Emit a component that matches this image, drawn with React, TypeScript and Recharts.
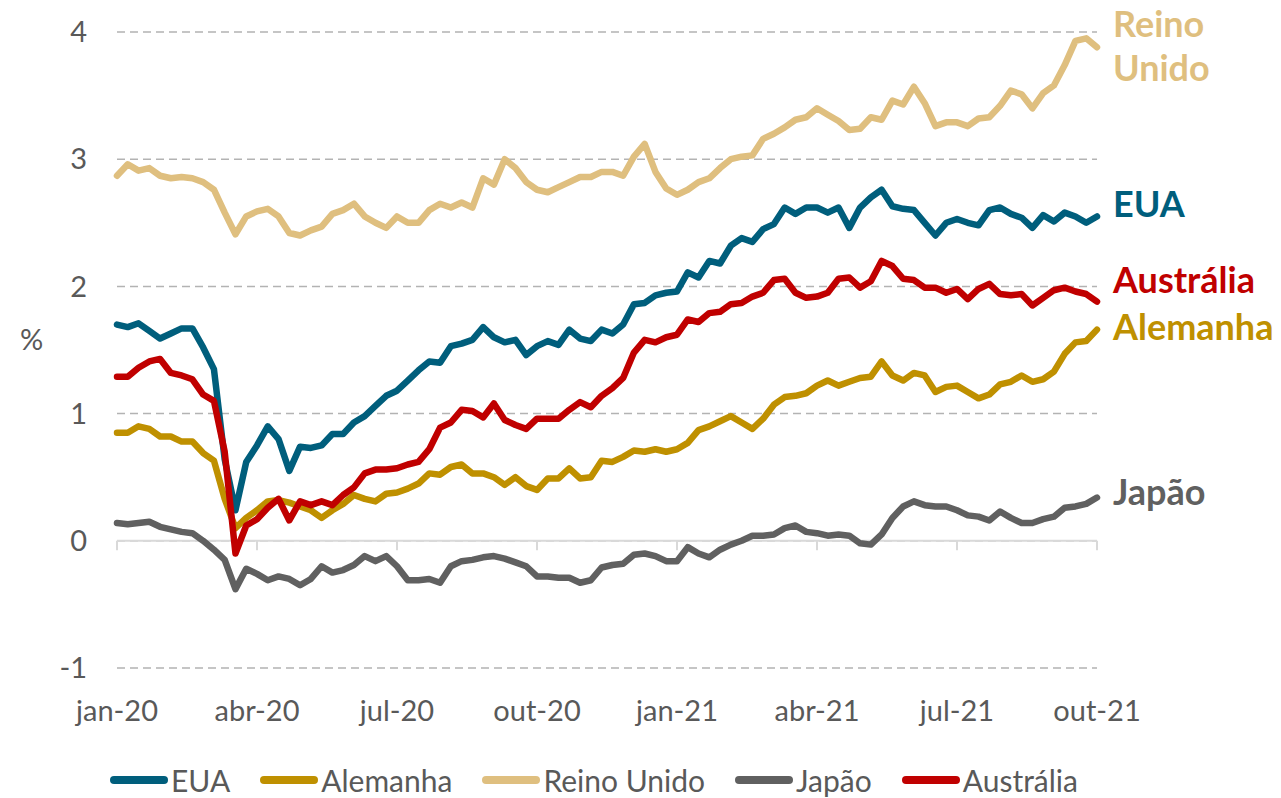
import React from 'react'
import {
  LineChart,
  Line,
  XAxis,
  YAxis,
  CartesianGrid,
  ReferenceLine,
} from 'recharts'

// weekly readings, jan-20 .. out-21 (92 weeks)
const tickWeeks = [0, 13, 26, 39, 52, 65, 78, 91]
const tickLabels = ['jan-20', 'abr-20', 'jul-20', 'out-20', 'jan-21', 'abr-21', 'jul-21', 'out-21']
const yTicks = [-1, 0, 1, 2, 3, 4]

const eua = [
  1.70, 1.68, 1.71, 1.65, 1.59, 1.63, 1.67, 1.67, 1.52, 1.35,
  0.64, 0.24, 0.62, 0.75, 0.90, 0.80, 0.55, 0.74, 0.73, 0.75,
  0.84, 0.84, 0.93, 0.98, 1.06, 1.14, 1.18, 1.26, 1.34, 1.41,
  1.40, 1.53, 1.55, 1.58, 1.68, 1.60, 1.56, 1.58, 1.46, 1.53,
  1.57, 1.54, 1.66, 1.59, 1.57, 1.66, 1.63, 1.70, 1.86, 1.87,
  1.93, 1.95, 1.96, 2.11, 2.07, 2.20, 2.18, 2.32, 2.38, 2.35,
  2.45, 2.49, 2.62, 2.57, 2.62, 2.62, 2.58, 2.62, 2.46, 2.62,
  2.70, 2.76, 2.63, 2.61, 2.60, 2.50, 2.40, 2.50, 2.53, 2.50,
  2.48, 2.60, 2.62, 2.57, 2.54, 2.46, 2.56, 2.51, 2.58, 2.55,
  2.50, 2.55,
]

const alemanha = [
  0.85, 0.85, 0.90, 0.88, 0.82, 0.82, 0.78, 0.78, 0.69, 0.63,
  0.33, 0.10, 0.18, 0.24, 0.31, 0.32, 0.30, 0.27, 0.24, 0.18,
  0.24, 0.29, 0.36, 0.33, 0.31, 0.37, 0.38, 0.41, 0.45, 0.53,
  0.52, 0.58, 0.60, 0.53, 0.53, 0.50, 0.44, 0.50, 0.43, 0.40,
  0.49, 0.49, 0.57, 0.49, 0.50, 0.63, 0.62, 0.66, 0.71, 0.70,
  0.72, 0.70, 0.72, 0.77, 0.87, 0.90, 0.94, 0.98, 0.93, 0.88,
  0.96, 1.07, 1.13, 1.14, 1.16, 1.22, 1.26, 1.22, 1.25, 1.28,
  1.29, 1.41, 1.30, 1.26, 1.32, 1.30, 1.17, 1.21, 1.22, 1.17,
  1.12, 1.15, 1.23, 1.25, 1.30, 1.25, 1.27, 1.33, 1.47, 1.56,
  1.57, 1.66,
]

const reinoUnido = [
  2.87, 2.96, 2.91, 2.93, 2.87, 2.85, 2.86, 2.85, 2.82, 2.76,
  2.58, 2.41, 2.55, 2.59, 2.61, 2.55, 2.42, 2.40, 2.44, 2.47,
  2.57, 2.60, 2.65, 2.55, 2.50, 2.46, 2.55, 2.50, 2.50, 2.60,
  2.65, 2.62, 2.66, 2.62, 2.85, 2.80, 3.00, 2.93, 2.82, 2.76,
  2.74, 2.78, 2.82, 2.86, 2.86, 2.90, 2.90, 2.87, 3.02, 3.12,
  2.90, 2.77, 2.72, 2.76, 2.82, 2.85, 2.93, 3.00, 3.02, 3.03,
  3.16, 3.20, 3.25, 3.31, 3.33, 3.40, 3.35, 3.30, 3.23, 3.24,
  3.33, 3.31, 3.46, 3.43, 3.57, 3.44, 3.26, 3.29, 3.29, 3.26,
  3.32, 3.33, 3.42, 3.54, 3.51, 3.40, 3.52, 3.58, 3.74, 3.93,
  3.95, 3.88,
]

const japao = [
  0.14, 0.13, 0.14, 0.15, 0.11, 0.09, 0.07, 0.06, 0.00, -0.07,
  -0.15, -0.38, -0.22, -0.26, -0.31, -0.28, -0.30, -0.35, -0.30, -0.20,
  -0.25, -0.23, -0.19, -0.12, -0.16, -0.12, -0.20, -0.31, -0.31, -0.30,
  -0.33, -0.20, -0.16, -0.15, -0.13, -0.12, -0.14, -0.17, -0.20, -0.28,
  -0.28, -0.29, -0.29, -0.33, -0.31, -0.21, -0.19, -0.18, -0.11, -0.10,
  -0.12, -0.16, -0.16, -0.05, -0.10, -0.13, -0.07, -0.03, 0.00, 0.04,
  0.04, 0.05, 0.10, 0.12, 0.07, 0.06, 0.04, 0.05, 0.04, -0.02,
  -0.03, 0.05, 0.18, 0.27, 0.31, 0.28, 0.27, 0.27, 0.24, 0.20,
  0.19, 0.16, 0.23, 0.18, 0.14, 0.14, 0.17, 0.19, 0.26, 0.27,
  0.29, 0.34,
]

const australia = [
  1.29, 1.29, 1.36, 1.41, 1.43, 1.32, 1.30, 1.27, 1.15, 1.10,
  0.70, -0.10, 0.12, 0.17, 0.26, 0.33, 0.16, 0.31, 0.28, 0.31,
  0.28, 0.36, 0.42, 0.53, 0.56, 0.56, 0.57, 0.60, 0.62, 0.72,
  0.89, 0.93, 1.03, 1.02, 0.97, 1.08, 0.95, 0.91, 0.88, 0.96,
  0.96, 0.96, 1.03, 1.09, 1.05, 1.14, 1.20, 1.28, 1.48, 1.58,
  1.56, 1.60, 1.62, 1.74, 1.72, 1.79, 1.80, 1.86, 1.87, 1.92,
  1.95, 2.05, 2.06, 1.95, 1.91, 1.92, 1.95, 2.06, 2.07, 1.99,
  2.04, 2.20, 2.16, 2.06, 2.05, 1.99, 1.99, 1.95, 1.98, 1.90,
  1.98, 2.02, 1.94, 1.93, 1.94, 1.85, 1.91, 1.97, 1.99, 1.96,
  1.94, 1.88,
]

const LAST = eua.length - 1

const data = eua.map((v, i) => ({
  w: i,
  eua: v,
  alemanha: alemanha[i],
  reinoUnido: reinoUnido[i],
  japao: japao[i],
  australia: australia[i],
}))

const series = [
  { key: 'eua', name: 'EUA', color: '#005E7C', label: ['EUA'], dy: 1 },
  { key: 'alemanha', name: 'Alemanha', color: '#BF9000', label: ['Alemanha'], dy: 10 },
  { key: 'reinoUnido', name: 'Reino Unido', color: '#DFBF7F', label: ['Reino', 'Unido'], dy: -10 },
  { key: 'japao', name: 'Japão', color: '#606060', label: ['Japão'], dy: 7 },
  { key: 'australia', name: 'Austrália', color: '#C00000', label: ['Austrália'], dy: -9 },
]

const FONT = 'Lato, "Open Sans", sans-serif'
const AXIS_GREY = '#595959'

// name at the right end of each line
function endLabel(lines: string[], color: string, dy: number) {
  return (props: any) => {
    const { x, y, index } = props
    if (index !== LAST) return <g />
    const tx = x + 16
    return (
      <text x={tx} y={y + dy} fill={color} fontSize={36} fontWeight={700} fontFamily={FONT}>
        {lines.map((t, k) => (
          <tspan key={t} x={tx} dy={k === 0 ? 0 : 44}>
            {t}
          </tspan>
        ))}
      </text>
    )
  }
}

function XTick({ x, y, payload }: any) {
  const idx = tickWeeks.indexOf(payload.value)
  return (
    <text x={x} y={y + 53} textAnchor="middle" fill={AXIS_GREY} fontSize={29} fontFamily={FONT}>
      {tickLabels[idx]}
    </text>
  )
}

function ChartLegend() {
  return (
    <div
      style={{
        position: 'absolute',
        top: 762,
        left: 110,
        display: 'flex',
        alignItems: 'center',
        gap: 30,
        fontFamily: FONT,
        fontSize: 30,
        color: AXIS_GREY,
      }}
    >
      {series.map((s) => (
        <div key={s.key} style={{ display: 'flex', alignItems: 'center' }}>
          <span
            style={{
              display: 'inline-block',
              width: 58,
              height: 8,
              borderRadius: 4,
              background: s.color,
              marginRight: 3,
            }}
          />
          <span>{s.name}</span>
        </div>
      ))}
    </div>
  )
}

export default function App() {
  return (
    <div style={{ position: 'absolute', left: 0, top: 0, width: 1281, height: 798, background: '#fff' }}>
      <LineChart width={1281} height={798} data={data} margin={{ top: 32, right: 184, left: 0, bottom: 90 }}>
        <CartesianGrid vertical={false} stroke="#b3b3b3" strokeWidth={1.5} strokeDasharray="8 5" />
        <XAxis
          dataKey="w"
          type="number"
          domain={[0, LAST]}
          ticks={tickWeeks}
          axisLine={false}
          tickLine={false}
          tickSize={0}
          tickMargin={0}
          height={40}
          interval={0}
          tick={<XTick />}
        />
        <YAxis
          type="number"
          domain={[-1, 4]}
          ticks={yTicks}
          axisLine={false}
          tickLine={false}
          tickSize={0}
          tickMargin={30}
          width={117}
          tick={{ fontSize: 29, fill: AXIS_GREY, fontFamily: FONT }}
          label={{
            value: '%',
            position: 'insideLeft',
            offset: 20,
            dy: -10,
            style: { fontSize: 29, fill: AXIS_GREY, fontFamily: FONT },
          }}
        />
        <ReferenceLine y={0} stroke="#d9d9d9" strokeWidth={2} />
        {tickWeeks.map((w) => (
          <ReferenceLine
            key={w}
            segment={[{ x: w, y: 0 }, { x: w, y: -0.075 }]}
            stroke="#d9d9d9"
            strokeWidth={2}
          />
        ))}
        {series.map((s) => (
          <Line
            key={s.key}
            dataKey={s.key}
            name={s.name}
            type="linear"
            stroke={s.color}
            strokeWidth={6.5}
            strokeLinejoin="round"
            strokeLinecap="round"
            dot={false}
            activeDot={false}
            isAnimationActive={false}
            label={endLabel(s.label, s.color, s.dy)}
          />
        ))}
      </LineChart>
      <ChartLegend />
    </div>
  )
}
